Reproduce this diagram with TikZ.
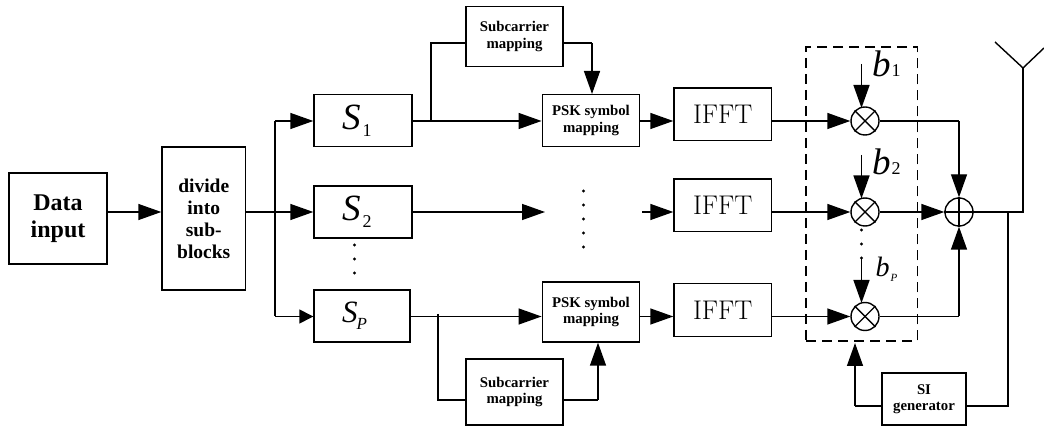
\documentclass[tikz,border=0pt]{standalone}
\usepackage{fontspec}
\setmainfont{Liberation Serif}
\newfontfamily\lmfont{Latin Modern Roman}
\usetikzlibrary{arrows.meta}
\newcommand{\fsz}[2]{\fontsize{#1pt}{#2pt}\selectfont}
% width, subscript, subscript size, kern, S size
\newcommand{\slabel}[5]{\makebox[#1pt][l]{\hspace{28pt}\fsz{#5}{#5}\itshape S\hspace{#4pt}\raisebox{-7pt}{\fsz{#3}{#3}#2}}}
\tikzset{
  x=1pt,y=-1pt,
  every path/.style={line width=1.4pt},
  box/.style={draw,rectangle,inner sep=0pt,align=center},
  bigbold/.style={font=\bfseries\fsz{24}{27.5}},
  midbold/.style={font=\bfseries\fsz{19.5}{22}},
  smallbold/.style={font=\bfseries\fsz{14.8}{16.5}},
  ifftbox/.style={box,minimum width=97.5pt,minimum height=52.5pt,font=\lmfont\fsz{27}{27}},
  mult/.style={draw,circle,minimum size=28pt,inner sep=0pt},
  arr/.style={-{Triangle[length=23pt,width=16pt]}},
  sarr/.style={-{Triangle[length=14pt,width=14pt]}},
  dotm/.style={circle,fill=black,draw=none,minimum size=3.4pt,inner sep=0pt},
  symb/.style={anchor=base west,inner sep=0pt}
}
\begin{document}
\begin{tikzpicture}
\useasboundingbox (0,0) rectangle (1044,427);
% rows
\coordinate (r1) at (0,121);
\coordinate (r2) at (0,212);
\coordinate (r3) at (0,316.5);
% boxes
\node[box,bigbold,minimum width=98pt,minimum height=91pt] (data) at (58,218.5) {Data\\input};
\node[box,midbold,minimum width=83.5pt,minimum height=143pt] (div) at (203.75,218.5) {divide\\into\\sub-\\blocks};
\node[box,minimum height=52pt] (s1) at (363,120.7) {\slabel{98}{\upshape 1}{18}{2}{37}};
\node[box,minimum height=52pt] (s2) at (363,212) {\slabel{98}{\upshape 2}{18}{2}{37}};
\node[box,minimum height=52pt] (sp) at (362,316) {\slabel{96}{P}{17}{-1}{31}};
\node[box,smallbold,minimum width=97pt,minimum height=60pt] (subt) at (514.5,36.7) {Subcarrier\\mapping};
\node[box,smallbold,minimum width=97.5pt,minimum height=52pt] (psk1) at (591,120.7) {PSK symbol\\mapping};
\node[box,smallbold,minimum width=97.5pt,minimum height=60pt] (psk3) at (591,312) {PSK symbol\\mapping};
\node[box,smallbold,minimum width=97pt,minimum height=66pt] (subb) at (514.5,392) {Subcarrier\\mapping};
\node[ifftbox] (f1) at (722.75,114.2) {IFFT};
\node[ifftbox] (f2) at (722.75,205.3) {IFFT};
\node[ifftbox] (f3) at (722.75,310) {IFFT};
\node[box,smallbold,minimum width=84pt,minimum height=52pt] (si) at (924,399) {SI\\generator};
% multipliers and summer
\node[mult] (m1) at (865,121) {};
\node[mult] (m2) at (865,212) {};
\node[mult] (m3) at (865,316.5) {};
\node[mult] (sum) at (959,212) {};
\foreach \m in {m1,m2,m3} {
  \draw (\m.45) -- (\m.225);
  \draw (\m.135) -- (\m.315);
}
\draw (sum.north) -- (sum.south);
\draw (sum.west) -- (sum.east);
% dashed frame
\node[draw,dash pattern=on 10pt off 6pt,minimum width=111.5pt,minimum height=294pt,inner sep=0pt] (frame) at (861.75,194) {};
% helper coordinates
\coordinate (bus) at (275,212);
\coordinate (bust) at (275,121);
\coordinate (busb) at (275,316.5);
\coordinate (j1) at (431,121);
\coordinate (j1u) at (431,43);
\coordinate (c1) at (592,43);
\coordinate (j3) at (438,314);
\coordinate (j3d) at (438,400);
\coordinate (c3) at (598,400);
\coordinate (gapa) at (545,212);
\coordinate (gapb) at (642,212);
\coordinate (ant) at (1023,68);
\coordinate (antl) at (995,42);
\coordinate (antr) at (1044,48);
\coordinate (tap) at (1008,212);
\coordinate (tapd) at (1008,406);
\coordinate (sil) at (855,406);
\coordinate (siu) at (855,343);
\coordinate (q1) at (959,121);
\coordinate (q3) at (959,316.5);
\coordinate (b1t) at (861.5,64);
\coordinate (b1e) at (861.5,108);
\coordinate (b2t) at (861.5,155);
\coordinate (b2e) at (861.5,198.5);
\coordinate (b3t) at (861.5,258);
\coordinate (b3e) at (861.5,303);
% connectors
\draw[arr] (data.east |- r2) -- (div.west |- r2);
\draw (div.east |- r2) -- (bus);
\draw[arr] (bus) -- (s2.west |- r2);
\draw[arr] (bust) -- (s1.west |- r1);
\draw (bust) -- (busb);
\draw[sarr] (busb) -- (sp.west |- r3);
\draw[arr] (s1.east |- r1) -- (psk1.west |- r1);
\draw (j1) -- (j1u) -- (subt.west |- j1u);
\draw (subt.east |- j1u) -- (c1);
\draw[arr] (c1) -- (c1 |- psk1.north);
\draw[arr] (s2.east |- r2) -- (gapa);
\draw[arr] (gapb) -- (f2.west |- r2);
\draw[arr] (sp.east |- r3) -- (psk3.west |- r3);
\draw (j3) -- (j3d) -- (subb.west |- j3d);
\draw (subb.east |- j3d) -- (c3);
\draw[arr] (c3) -- (c3 |- psk3.south);
\draw[arr] (psk1.east |- r1) -- (f1.west |- r1);
\draw[arr] (psk3.east |- r3) -- (f3.west |- r3);
\draw[arr] (f1.east |- r1) -- (m1.west);
\draw[arr] (f2.east |- r2) -- (m2.west);
\draw[arr] (f3.east |- r3) -- (m3.west);
\draw[arr] (b1t) -- (b1e);
\draw[arr] (b2t) -- (b2e);
\draw[arr] (b3t) -- (b3e);
\draw (m1.east) -- (q1);
\draw[arr] (q1) -- (sum.north);
\draw[arr] (m2.east) -- (sum.west);
\draw (m3.east) -- (q3);
\draw[arr] (q3) -- (sum.south);
\draw (sum.east) -- (tap) -- (ant |- tap) -- (ant);
\draw (antl) -- (ant) -- (antr);
\draw (tap) -- (tapd) -- (si.east |- tapd);
\draw (si.west |- sil) -- (sil);
\draw[arr] (sil) -- (siu);
% b labels
\node[symb] (lb1) at (871.5,76.5) {\fsz{37}{37}\itshape b\hspace{1pt}{\upshape\fsz{18}{18}1}};
\node[symb] (lb2) at (871.5,175) {\fsz{37}{37}\itshape b\hspace{1pt}{\upshape\fsz{18}{18}2}};
\node[symb] (lb3) at (875,277) {\fsz{28}{28}\itshape b\hspace{1pt}\raisebox{-5pt}{\fsz{11}{11}P}};
% dots
\foreach \i/\yy in {1/191,2/205,3/219,4/233,5/247} \node[dotm] (da\i) at (583.5,\yy) {};
\foreach \i/\yy in {1/245,2/259,3/273} \node[dotm] (db\i) at (354.5,\yy) {};
\foreach \i/\yy in {1/230,2/244,3/258} \node[dotm] (dc\i) at (861.5,\yy) {};
\end{tikzpicture}
\end{document}
